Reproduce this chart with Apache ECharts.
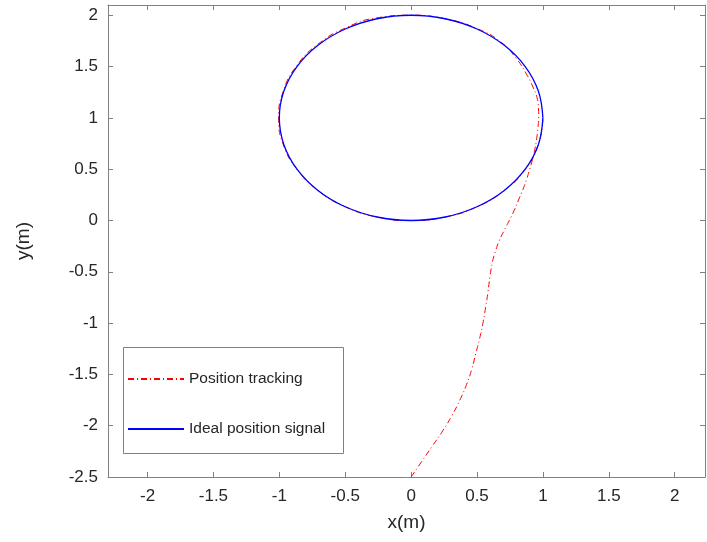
<!DOCTYPE html>
<html><head><meta charset="utf-8">
<script src="https://cdn.jsdelivr.net/npm/echarts@6/dist/echarts.min.js"></script>
<style>html,body{margin:0;padding:0;background:#fff}#c{width:707px;height:542px}</style>
</head><body><div id="c"></div>
<script>
// Ideal position signal: circle (x, y in m)
const idealX = [1, 0.966, 0.866, 0.707, 0.5, 0.259, 0, -0.259, -0.5, -0.707, -0.866, -0.966, -1, -0.966, -0.866, -0.707, -0.5, -0.259, 0, 0.259, 0.5, 0.707, 0.866, 0.966, 1];
const idealY = [1, 1.259, 1.5, 1.707, 1.866, 1.966, 2, 1.966, 1.866, 1.707, 1.5, 1.259, 1, 0.741, 0.5, 0.293, 0.134, 0.034, 0, 0.034, 0.134, 0.293, 0.5, 0.741, 1];
// Position tracking trajectory
const trackX = [0, 0.08, 0.16, 0.24, 0.31, 0.37, 0.42, 0.46, 0.49, 0.52, 0.545, 0.565, 0.583, 0.598, 0.618, 0.64, 0.668, 0.705, 0.745, 0.783, 0.815, 0.848, 0.876, 0.9, 0.922, 0.94, 0.953, 0.962, 0.968, 0.966, 0.955, 0.925, 0.874, 0.8, 0.68, 0.5, 0.26, 0, -0.26, -0.5, -0.71, -0.87, -0.97, -1.005, -0.97, -0.866, -0.707, -0.5, -0.259, 0, 0.259, 0.5, 0.707, 0.866, 0.966, 1];
const trackY = [-2.5, -2.35, -2.2, -2.05, -1.9, -1.75, -1.6, -1.45, -1.3, -1.15, -1.0, -0.85, -0.7, -0.55, -0.4, -0.3, -0.2, -0.1, 0, 0.1, 0.2, 0.3, 0.4, 0.5, 0.6, 0.7, 0.8, 0.9, 1.0, 1.1, 1.2, 1.3, 1.43, 1.575, 1.74, 1.87, 1.965, 2.0, 1.975, 1.875, 1.715, 1.505, 1.26, 1.0, 0.74, 0.5, 0.293, 0.134, 0.034, 0, 0.034, 0.134, 0.293, 0.5, 0.741, 1];
const seriesNames = ['Position tracking', 'Ideal position signal'];
const xTitle = 'x(m)';
const yTitle = 'y(m)';

const zip = (a, b) => a.map((v, i) => [v, b[i]]);
const axisGray = '#808080';
const txt = '#262626';
const font = 'Arial, "Liberation Sans", sans-serif';
const xMin = -2.3, xMax = 2.23, yMin = -2.5, yMax = 2.1;

const chart = echarts.init(document.getElementById('c'));
chart.setOption({
  animation: false,
  backgroundColor: '#fff',
  grid: { left: 108, top: 5, right: 2, bottom: 65, containLabel: false },
  xAxis: [{
    type: 'value', min: xMin, max: xMax, splitNumber: 9, minInterval: 0.5, maxInterval: 0.5,
    name: xTitle, nameLocation: 'middle', nameGap: 36,
    nameTextStyle: { fontSize: 19, color: txt, fontFamily: font },
    axisLine: { show: true, onZero: false, lineStyle: { color: axisGray, width: 1 } },
    axisTick: { show: true, inside: true, length: 5, lineStyle: { color: axisGray } },
    axisLabel: { fontSize: 17, color: txt, fontFamily: font, margin: 11, showMinLabel: false, showMaxLabel: false },
    splitLine: { show: false }
  }, {
    type: 'value', position: 'top', min: xMin, max: xMax, splitNumber: 9, minInterval: 0.5, maxInterval: 0.5,
    axisLine: { show: true, onZero: false, lineStyle: { color: axisGray, width: 1 } },
    axisTick: { show: true, inside: true, length: 5, lineStyle: { color: axisGray } },
    axisLabel: { show: false }, splitLine: { show: false }
  }],
  yAxis: [{
    type: 'value', min: yMin, max: yMax, interval: 0.5,
    name: yTitle, nameLocation: 'middle', nameGap: 75, nameRotate: 90,
    nameTextStyle: { fontSize: 19, color: txt, fontFamily: font },
    axisLine: { show: true, onZero: false, lineStyle: { color: axisGray, width: 1 } },
    axisTick: { show: true, inside: true, length: 5, lineStyle: { color: axisGray } },
    axisLabel: { fontSize: 17, color: txt, fontFamily: font, margin: 10, showMaxLabel: false },
    splitLine: { show: false }
  }, {
    type: 'value', position: 'right', min: yMin, max: yMax, interval: 0.5,
    axisLine: { show: true, onZero: false, lineStyle: { color: axisGray, width: 1 } },
    axisTick: { show: true, inside: true, length: 5, lineStyle: { color: axisGray } },
    axisLabel: { show: false }, splitLine: { show: false }
  }],
  graphic: [{
    type: 'rect', z: 3, left: 123, top: 347,
    shape: { width: 220, height: 106 },
    style: { fill: '#fff', stroke: axisGray, lineWidth: 1 }
  }],
  legend: {
    z: 10, orient: 'vertical', left: 122, top: 366,
    itemWidth: 56, itemHeight: 14, itemGap: 34,
    itemStyle: { opacity: 0 },
    textStyle: { fontSize: 15.5, color: txt, fontFamily: font },
    data: seriesNames
  },
  series: [{
    name: seriesNames[0], type: 'line', data: zip(trackX, trackY),
    showSymbol: false, symbol: 'none', smooth: 0.5, z: 2,
    lineStyle: { color: '#ff0000', width: 1, type: [6, 3, 1, 3] },
    itemStyle: { color: '#ff0000' }
  }, {
    name: seriesNames[1], type: 'line', data: zip(idealX, idealY),
    showSymbol: false, symbol: 'none', smooth: 0.4, z: 3,
    lineStyle: { color: '#0000ff', width: 1.3 },
    itemStyle: { color: '#0000ff' }
  }]
});
</script></body></html>
